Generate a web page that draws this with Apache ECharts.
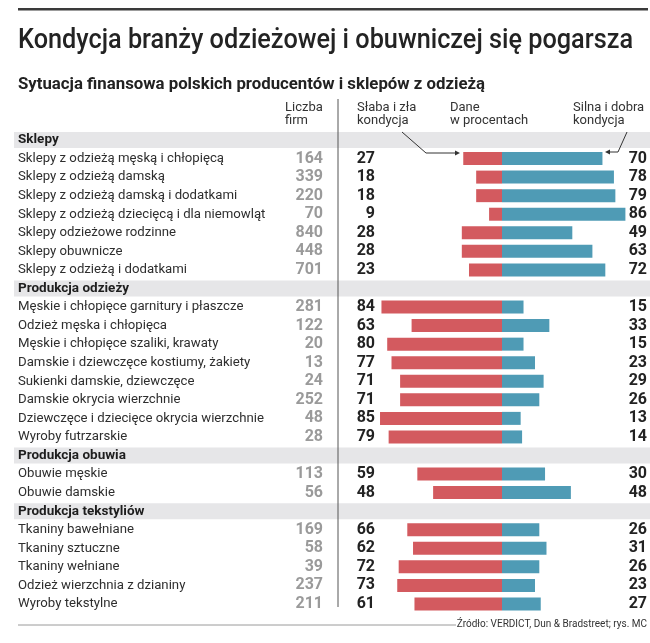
<!DOCTYPE html>
<html>
<head>
<meta charset="utf-8">
<script src="https://cdn.jsdelivr.net/npm/echarts@6/dist/echarts.min.js"></script>
<style>
html,body{margin:0;padding:0;background:#fff;}
#chart{width:650px;height:643px;}
</style>
</head>
<body>
<div id="chart"></div>
<script>
// ---- data ----
const sectionHeaders = ["Sklepy", "Produkcja odzieży", "Produkcja obuwia", "Produkcja tekstyliów"];
const rowLabels = [
  "Sklepy",
  "Sklepy z odzieżą męską i chłopięcą",
  "Sklepy z odzieżą damską",
  "Sklepy z odzieżą damską i dodatkami",
  "Sklepy z odzieżą dziecięcą i dla niemowląt",
  "Sklepy odzieżowe rodzinne",
  "Sklepy obuwnicze",
  "Sklepy z odzieżą i dodatkami",
  "Produkcja odzieży",
  "Męskie i chłopięce garnitury i płaszcze",
  "Odzież męska i chłopięca",
  "Męskie i chłopięce szaliki, krawaty",
  "Damskie i dziewczęce kostiumy, żakiety",
  "Sukienki damskie, dziewczęce",
  "Damskie okrycia wierzchnie",
  "Dziewczęce i dziecięce okrycia wierzchnie",
  "Wyroby futrzarskie",
  "Produkcja obuwia",
  "Obuwie męskie",
  "Obuwie damskie",
  "Produkcja tekstyliów",
  "Tkaniny bawełniane",
  "Tkaniny sztuczne",
  "Tkaniny wełniane",
  "Odzież wierzchnia z dzianiny",
  "Wyroby tekstylne"
];
const firmCounts = [null,164,339,220,70,840,448,701, null,281,122,20,13,24,252,48,28, null,113,56, null,169,58,39,237,211];
const weakShare  = [null,27,18,18,9,28,28,23, null,84,63,80,77,71,71,85,79, null,59,48, null,66,62,72,73,61];
const strongShare= [null,70,78,79,86,49,63,72, null,15,33,15,23,29,26,13,14, null,30,48, null,26,31,26,23,27];

const titleText = "Kondycja branży odzieżowej i obuwniczej się pogarsza";
const subtitleText = "Sytuacja finansowa polskich producentów i sklepów z odzieżą";
const sourceText = "Źródło: VERDICT, Dun & Bradstreet; rys. MC";

// ---- layout helpers ----
const RED = '#d35a5f', BLUE = '#4f9bb5', BAND = '#e6e6e8';
const TOP = 130.7, ROWH = 18.56, HEIGHT = ROWH * rowLabels.length;
const FONT = 'Roboto';

function measure(font, text) {
  const c = document.createElement('canvas').getContext('2d');
  c.font = font;
  return c.measureText(text).width;
}
const titleFont = '500 28px ' + FONT;
const titleScale = 615 / measure(titleFont, titleText);
const subFont = 'bold 16px ' + FONT;
const subScale = Math.min(1.05, 467 / measure(subFont, subtitleText));

const isHeader = rowLabels.map(l => sectionHeaders.includes(l));

const chart = echarts.init(document.getElementById('chart'), null, {renderer: 'canvas'});

const catAxisBase = {
  type: 'category', inverse: true, data: rowLabels,
  axisLine: {show: false}, axisTick: {show: false}, splitLine: {show: false}
};

const option = {
  animation: false,
  backgroundColor: '#fff',
  grid: [
    {left: 358.5, width: 287, top: TOP, height: HEIGHT},
    {left: 14, width: 636, top: TOP, height: HEIGHT},
    {left: 18, width: 305, top: TOP, height: HEIGHT},
    {left: 375, width: 272, top: TOP, height: HEIGHT}
  ],
  xAxis: [
    {gridIndex: 0, type: 'value', min: -100, max: 100, show: false},
    {gridIndex: 1, type: 'value', min: 0, max: 1, show: false},
    {gridIndex: 2, type: 'value', min: 0, max: 1, show: false},
    {gridIndex: 3, type: 'value', min: 0, max: 1, show: false}
  ],
  yAxis: [
    Object.assign({}, catAxisBase, {gridIndex: 0, axisLabel: {show: false}}),
    Object.assign({}, catAxisBase, {
      gridIndex: 1, position: 'left', z: 10,
      axisLabel: {
        inside: true, margin: 4, interval: 0,
        formatter: (v, i) => isHeader[i] ? '{h|' + v + '}' : '{n|' + v + '}',
        rich: {
          h: {fontFamily: FONT, fontWeight: 'bold', fontSize: 13.5, color: '#1e1e1e'},
          n: {fontFamily: FONT, fontSize: 13.2, color: '#2e2e2e'}
        }
      }
    }),
    Object.assign({}, catAxisBase, {
      gridIndex: 2, position: 'right', z: 10,
      axisLabel: {
        inside: true, margin: 0, interval: 0,
        formatter: (v, i) => firmCounts[i] == null ? '' : String(firmCounts[i]),
        fontFamily: FONT, fontWeight: 'bold', fontSize: 16, color: '#9a9a9a'
      }
    }),
    Object.assign({}, catAxisBase, {
      gridIndex: 3, position: 'left', z: 10,
      axisLabel: {
        inside: false, margin: 0, interval: 0,
        formatter: (v, i) => weakShare[i] == null ? '' : String(weakShare[i]),
        fontFamily: FONT, fontWeight: 'bold', fontSize: 16, color: '#222'
      }
    }),
    Object.assign({}, catAxisBase, {
      gridIndex: 3, position: 'right', z: 10,
      axisLabel: {
        inside: true, margin: 0, interval: 0,
        formatter: (v, i) => strongShare[i] == null ? '' : String(strongShare[i]),
        fontFamily: FONT, fontWeight: 'bold', fontSize: 16, color: '#222'
      }
    })
  ],
  series: [
    {
      type: 'bar', xAxisIndex: 1, yAxisIndex: 1, barWidth: 16, z: 0, silent: true,
      itemStyle: {color: BAND},
      data: isHeader.map(h => h ? 1 : '-')
    },
    {
      type: 'bar', xAxisIndex: 0, yAxisIndex: 0, stack: 'share', barWidth: 13, silent: true,
      itemStyle: {color: RED},
      data: weakShare.map(v => v == null ? '-' : -v)
    },
    {
      type: 'bar', xAxisIndex: 0, yAxisIndex: 0, stack: 'share', barWidth: 13, silent: true,
      itemStyle: {color: BLUE},
      data: strongShare.map(v => v == null ? '-' : v)
    }
  ],
  graphic: [
    {type: 'rect', shape: {x: 18, y: 8, width: 630, height: 2.5}, style: {fill: '#3a3a3a'}, z: 5},
    {type: 'text', x: 18, y: 41, scaleX: titleScale, z: 5,
      style: {text: titleText, font: titleFont, fill: '#232323', textVerticalAlign: 'middle'}},
    {type: 'text', x: 18, y: 85, scaleX: subScale, z: 5,
      style: {text: subtitleText, font: subFont, fill: '#222', textVerticalAlign: 'middle'}},
    // column headers
    {type: 'text', x: 285, y: 108, z: 5, style: {text: 'Liczba', font: '13px ' + FONT, fill: '#333', textVerticalAlign: 'middle'}},
    {type: 'text', x: 285, y: 121, z: 5, style: {text: 'firm', font: '13px ' + FONT, fill: '#333', textVerticalAlign: 'middle'}},
    {type: 'text', x: 357, y: 108, z: 5, style: {text: 'Słaba i zła', font: '13px ' + FONT, fill: '#333', textVerticalAlign: 'middle'}},
    {type: 'text', x: 357, y: 121, z: 5, style: {text: 'kondycja', font: '13px ' + FONT, fill: '#333', textVerticalAlign: 'middle'}},
    {type: 'text', x: 450, y: 108, z: 5, style: {text: 'Dane', font: '13px ' + FONT, fill: '#333', textVerticalAlign: 'middle'}},
    {type: 'text', x: 450, y: 121, z: 5, style: {text: 'w procentach', font: '13px ' + FONT, fill: '#333', textVerticalAlign: 'middle'}},
    {type: 'text', x: 573, y: 108, z: 5, style: {text: 'Silna i dobra', font: '13px ' + FONT, fill: '#333', textVerticalAlign: 'middle'}},
    {type: 'text', x: 573, y: 121, z: 5, style: {text: 'kondycja', font: '13px ' + FONT, fill: '#333', textVerticalAlign: 'middle'}},
    // vertical divider
    {type: 'line', shape: {x1: 338, y1: 99, x2: 338, y2: 607}, style: {stroke: '#555', lineWidth: 1}, z: 5},
    // arrows
    {type: 'polyline', shape: {points: [[402, 132], [426, 153], [456, 153]]}, style: {stroke: '#333', lineWidth: 1, fill: null}, z: 5},
    {type: 'polygon', shape: {points: [[460, 153], [455, 150.5], [455, 155.5]]}, style: {fill: '#333'}, z: 5},
    {type: 'polyline', shape: {points: [[627, 132], [618, 152], [609, 152]]}, style: {stroke: '#333', lineWidth: 1, fill: null}, z: 5},
    {type: 'polygon', shape: {points: [[605, 152], [610, 149.5], [610, 154.5]]}, style: {fill: '#333'}, z: 5},
    // bottom rule and source
    {type: 'line', shape: {x1: 18, y1: 625, x2: 456, y2: 625}, style: {stroke: '#9a9a9a', lineWidth: 1}, z: 5},
    {type: 'text', x: 647, y: 624, z: 5, style: {text: sourceText, font: '10px ' + FONT, fill: '#333', textAlign: 'right', textVerticalAlign: 'middle'}}
  ]
};
chart.setOption(option);
</script>
</body>
</html>
